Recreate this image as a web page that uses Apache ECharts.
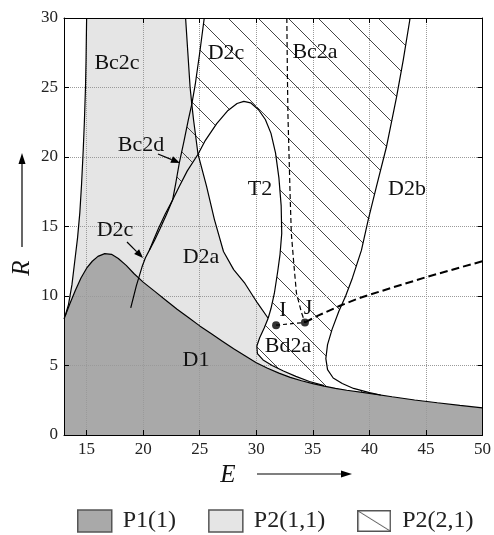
<!DOCTYPE html>
<html><head><meta charset="utf-8">
<script src="https://cdn.jsdelivr.net/npm/echarts@6/dist/echarts.min.js"></script>
<style>html,body{margin:0;padding:0;background:#fff}#c{width:494px;height:535px}</style>
</head><body><div id="c"></div>
<script>
// ---- tick values ----
const xTicks = [15, 20, 25, 30, 35, 40, 45, 50];
const yTicks = [0, 5, 10, 15, 20, 25, 30];
// ---- boundary curves [E, R] ----
const curveD1 = [[13,8.35],[13.5,9.4],[14,10.4],[14.5,11.3],[15,12.0],[15.5,12.5],[16,12.85],[16.6,13.05],[17.2,13.0],[17.8,12.7],[18.5,12.2],[19.2,11.6],[20,11.0],[21,10.35],[22,9.7],[23,9.05],[24,8.45],[25,7.85],[26,7.3],[27,6.75],[28,6.2],[29,5.7],[30,5.2],[31,4.8],[32,4.45],[33,4.15],[34,3.9],[35,3.7],[36,3.52],[37,3.36],[38,3.22],[40,3.0],[42,2.75],[44,2.52],[46,2.32],[48,2.13],[50,1.95]];
const curveBc2c = [[15.0,30],[14.95,27],[14.9,25],[14.8,22.5],[14.7,20.5],[14.55,18],[14.4,16],[14.2,14.2],[13.95,12.5],[13.7,10.8],[13.4,9.4],[13.1,8.56]];
const curveA = [[23.75,30],[23.95,27.5],[24.15,25],[24.3,23.8],[24.45,22.7],[24.85,20.2],[25.6,17.9],[26.3,15.5],[27.1,13.2],[28.0,11.9],[29.0,10.9],[30.1,9.5],[31.05,8.4]];
const curveB = [[25.4,30],[25.0,27.5],[24.6,25.2],[24.3,23.8],[24.0,22.7],[23.6,21.1],[23.2,19.6],[22.9,18.2],[22.6,16.9],[21.95,15.9],[21.35,14.85],[20.9,14.0],[20.55,13.3]];
const curveT2 = [[18.9,9.15],[19.4,10.75],[19.9,12.1],[20.2,12.75],[20.55,13.3],[21.0,14.0],[21.5,14.85],[22.05,15.85],[22.6,16.9],[23.2,17.9],[23.9,19.0],[24.85,20.2],[25.5,21.2],[26.5,22.4],[27.5,23.35],[28.3,23.85],[28.9,24.0],[29.5,23.9],[30.2,23.4],[30.8,22.7],[31.3,21.7],[31.7,20.3],[32.0,18.5],[32.2,16.5],[32.25,14.5],[32.1,13.0],[31.9,11.8],[31.6,10.2],[31.3,9.1],[31.05,8.4]];
const curveBd2a = [[31.05,8.4],[30.7,7.7],[30.3,7.0],[30.05,6.4],[30.1,5.85],[30.6,5.4],[31.4,5.0],[32.4,4.6],[33.5,4.22],[34.7,3.85],[36,3.55]];
const curveD2b = [[43.6,30],[43.0,27],[42.4,24.3],[41.5,20.7],[40.6,17.8],[39.9,15.5],[39.3,13.3],[38.5,11.3],[37.9,10.0],[37.3,8.9],[36.7,7.6],[36.3,6.5],[36.15,5.5],[36.3,4.7],[36.8,4.1],[37.6,3.7],[38.6,3.35],[40.0,3.05],[41.0,2.88]];
const dashBc2a = [[32.7,30],[32.75,26],[32.8,23],[32.9,20],[33.0,17],[33.1,14.5],[33.3,12.5],[33.55,10.2],[34.0,8.8],[34.3,8.1]];
const dashJ = [[34.3,8.1],[35.5,8.6],[37.4,9.3],[39.1,9.85],[42,10.6],[45,11.35],[48,12.05],[50,12.5]];
const dashIJ = [[31.75,7.9],[34.3,8.1]];
const pointsIJ = [[31.75,7.9],[34.3,8.1]];
const regionNames = ['P1(1)', 'P2(1,1)', 'P2(2,1)'];

const GRAY_D = '#a9a9a9', GRAY_L = '#e5e5e5', SERIF = 'Liberation Serif';

// region polygons built from the curves
const polyP1 = curveD1.concat([[50,0],[13,0]]);
const polyP2a = curveBc2c.concat(
  curveD1.filter(p => p[0] > 13.1 && p[0] < 36),
  curveBd2a.slice().reverse(),
  curveA.slice().reverse());
const polyP21 = curveD2b.concat(
  curveD1.filter(p => p[0] > 36 && p[0] < 41).reverse(),
  curveBd2a.slice().reverse(),
  curveT2.slice(4).reverse(),
  curveB.slice().reverse());

// hatch pattern
const hc = document.createElement('canvas'); hc.width = 30; hc.height = 30;
(function(){ const g = hc.getContext('2d'); g.strokeStyle = '#444'; g.lineWidth = 1;
  g.beginPath(); g.moveTo(-2,-2); g.lineTo(32,32); g.stroke(); })();
// legend hatch icon
const ic = document.createElement('canvas'); ic.width = 34; ic.height = 22;
(function(){ const g = ic.getContext('2d'); g.fillStyle = '#fff'; g.fillRect(0,0,34,22);
  g.strokeStyle = '#555'; g.lineWidth = 1.5; g.strokeRect(0.75,0.75,32.5,20.5);
  g.lineWidth = 1; g.beginPath(); g.moveTo(1,1); g.lineTo(33,21); g.stroke(); })();

function polySeries(name, pts, fill) {
  return { type: 'custom', name, z: 1, silent: true, coordinateSystem: 'cartesian2d',
    data: [[0, 0]],
    renderItem: (params, api) => ({ type: 'polygon',
      shape: { points: pts.map(p => api.coord(p)) },
      style: { fill: fill, stroke: null } }) };
}
function lineSeries(pts, opt) {
  return Object.assign({ type: 'line', data: pts, showSymbol: false, silent: true, z: 4,
    lineStyle: { color: '#000', width: 1.2 } }, opt || {});
}
function arrow(x1, y1, x2, y2, hl, hw, w) {
  const dx = x2 - x1, dy = y2 - y1, L = Math.hypot(dx, dy), ux = dx / L, uy = dy / L;
  const bx = x2 - ux * hl, by = y2 - uy * hl;
  return [
    { type: 'line', z: 10, shape: { x1, y1, x2: bx, y2: by }, style: { stroke: '#000', lineWidth: w } },
    { type: 'polygon', z: 10, shape: { points: [[x2, y2], [bx - uy * hw, by + ux * hw], [bx + uy * hw, by - ux * hw]] }, style: { fill: '#000' } }
  ];
}
function txt(t, x, y, size, italic, rot) {
  return { type: 'text', z: 10, x, y, rotation: rot || 0,
    style: { text: t, fontFamily: SERIF, fontSize: size, fontStyle: italic ? 'italic' : 'normal',
      fill: '#111', align: 'center', verticalAlign: 'middle' } };
}

const axisCommon = { type: 'value', z: 2,
  axisLine: { show: true, onZero: false, lineStyle: { color: '#000', width: 1 } } };

const chart = echarts.init(document.getElementById('c'), null, { renderer: 'canvas' });
chart.setOption({
  animation: false,
  grid: { left: 64, right: 11, top: 18, bottom: 100 },
  xAxis: [
    Object.assign({}, axisCommon, { min: 13, max: 50, position: 'bottom',
      axisTick: { show: true, inside: true, length: 5, customValues: xTicks, lineStyle: { color: '#000' } },
      axisLabel: { customValues: xTicks, margin: 6, color: '#222', fontFamily: SERIF, fontSize: 17 },
      splitLine: { show: true, lineStyle: { type: 'dotted', color: '#9a9a9a', width: 1 } } }),
    Object.assign({}, axisCommon, { min: 13, max: 50, position: 'top',
      axisTick: { show: true, inside: true, length: 5, customValues: xTicks, lineStyle: { color: '#000' } },
      axisLabel: { show: false }, splitLine: { show: false } })
  ],
  yAxis: [
    Object.assign({}, axisCommon, { min: 0, max: 30, interval: 5, position: 'left',
      axisTick: { show: true, inside: true, length: 5, lineStyle: { color: '#000' } },
      axisLabel: { margin: 6, color: '#222', fontFamily: SERIF, fontSize: 17 },
      splitLine: { show: true, lineStyle: { type: 'dotted', color: '#9a9a9a', width: 1 } } }),
    Object.assign({}, axisCommon, { min: 0, max: 30, interval: 5, position: 'right',
      axisTick: { show: true, inside: true, length: 5, lineStyle: { color: '#000' } },
      axisLabel: { show: false }, splitLine: { show: false } })
  ],
  legend: { left: 72, top: 504, itemWidth: 34, itemHeight: 22, itemGap: 32, selectedMode: false,
    textStyle: { fontFamily: SERIF, fontSize: 24, color: '#222', padding: [0, 0, 0, 6] },
    data: [
      { name: regionNames[0], icon: 'rect', itemStyle: { color: GRAY_D, borderColor: '#555', borderWidth: 1.5 } },
      { name: regionNames[1], icon: 'rect', itemStyle: { color: GRAY_L, borderColor: '#555', borderWidth: 1.5 } },
      { name: regionNames[2], icon: 'image://' + ic.toDataURL() }
    ] },
  series: [
    polySeries(regionNames[0], polyP1, GRAY_D),
    polySeries(regionNames[1], polyP2a, GRAY_L),
    polySeries(regionNames[2], polyP21, { image: hc, repeat: 'repeat' }),
    lineSeries(curveD1),
    lineSeries(curveBc2c),
    lineSeries(curveA),
    lineSeries(curveB),
    lineSeries(curveT2),
    lineSeries(curveBd2a),
    lineSeries(curveD2b),
    lineSeries(dashBc2a, { lineStyle: { color: '#000', width: 1.2, type: [5, 3] } }),
    lineSeries(dashJ, { lineStyle: { color: '#000', width: 2, type: [8, 4] } }),
    lineSeries(dashIJ, { lineStyle: { color: '#000', width: 1.2, type: [4, 3] } }),
    { type: 'scatter', data: pointsIJ, symbolSize: 8, z: 5, silent: true, itemStyle: { color: '#000' } }
  ],
  graphic: [
    txt('Bc2c', 117, 63, 22), txt('D2c', 226, 53, 22), txt('Bc2a', 315, 52, 22),
    txt('Bc2d', 141, 145, 22), txt('D2c', 115, 230, 22), txt('T2', 260, 189, 22),
    txt('D2b', 407, 189, 22), txt('D2a', 201, 257, 22), txt('D1', 196, 360, 22),
    txt('I', 283, 310, 22), txt('J', 308, 308, 22), txt('Bd2a', 288, 346, 22),
    txt('E', 228, 475, 25, true), txt('R', 22, 268, 25, true, Math.PI / 2)
  ].concat(arrow(257, 474, 352, 474, 11, 3.5, 1.2), arrow(22, 247, 22, 153, 11, 3.5, 1.2),
           arrow(158, 154, 180, 163, 9, 3.5, 1.2), arrow(127, 242, 143, 258, 9, 3.5, 1.2))
});
</script></body></html>
